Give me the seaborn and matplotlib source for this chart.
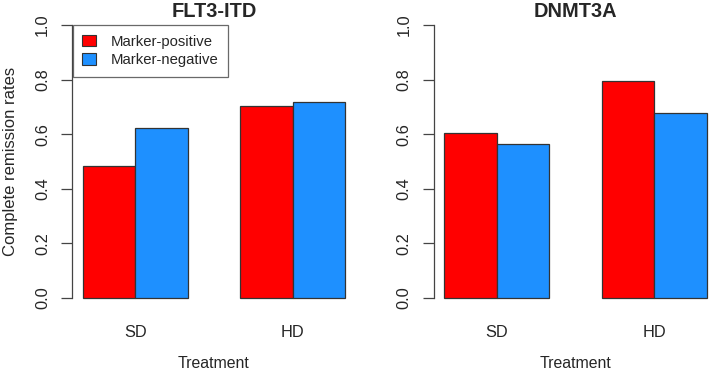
import numpy as np
import pandas as pd
import seaborn as sns
import matplotlib.pyplot as plt
from matplotlib.patches import Patch

# -- data -- #
panels = ['FLT3-ITD', 'DNMT3A']
treatments = ['SD', 'HD']
groups = ['Marker-positive', 'Marker-negative']
flt3_pos = [0.483, 0.703]
flt3_neg = [0.624, 0.717]
dnmt3a_pos = [0.606, 0.795]
dnmt3a_neg = [0.564, 0.676]
colors = ['#FF0000', '#1E90FF']

values = {'FLT3-ITD': (flt3_pos, flt3_neg), 'DNMT3A': (dnmt3a_pos, dnmt3a_neg)}

sns.set_style('white')
plt.rcParams['font.family'] = ['Liberation Sans', 'DejaVu Sans']

W, H = 709, 372
fig = plt.figure(figsize=(W / 100, H / 100), dpi=100)

# axes boxes in pixels (R style, 4% padding); right panel runs past the edge like the reference
lefts = [72.2, 433.8]
axw, bottom, axh = 283.5, 63.1, 294.8

for i, name in enumerate(panels):
    pos, neg = values[name]
    df = pd.DataFrame({'Treatment': treatments * 2,
                       'rate': pos + neg,
                       'group': [groups[0]] * 2 + [groups[1]] * 2})
    ax = fig.add_axes([lefts[i] / W, bottom / H, axw / W, axh / H])
    sns.barplot(data=df, x='Treatment', y='rate', hue='group', order=treatments,
                hue_order=groups, palette=colors, width=2 / 3, gap=0,
                edgecolor='#333333', linewidth=0.9, saturation=1, errorbar=None,
                legend=False, ax=ax)
    ax.set_xlim(-0.4, 1.4)
    ax.set_ylim(-0.04, 1.04)
    for s in ['top', 'right', 'bottom']:
        ax.spines[s].set_visible(False)
    ax.spines['left'].set_bounds(0, 1)
    ax.spines['left'].set_color('#444444')
    ax.spines['left'].set_linewidth(0.9)
    ax.set_yticks([0, 0.2, 0.4, 0.6, 0.8, 1.0])
    ax.set_yticklabels(['0.0', '0.2', '0.4', '0.6', '0.8', '1.0'])
    ax.tick_params(axis='y', direction='out', length=8, width=0.9, color='#444444',
                   labelsize=11.8, pad=8, left=True)
    for lab in ax.get_yticklabels():
        lab.set_rotation(90)
        lab.set_va('center')
    ax.tick_params(axis='x', length=0, labelsize=11.8, pad=11.5)
    ax.set_xlabel('Treatment', fontsize=11.4, labelpad=11.5)
    if i == 0:
        ax.set_ylabel('Complete remission rates', fontsize=12, labelpad=12.5)
    else:
        ax.set_ylabel('')
    ax.text(0.5, 0.991, name, transform=ax.transAxes, ha='center', va='baseline',
            fontsize=14.4, fontweight='bold')

handles = [Patch(facecolor=c, edgecolor='#333333', linewidth=0.8) for c in colors]
leg = fig.legend(handles, groups, loc='upper left',
                 bbox_to_anchor=(72.7 / W, (H - 25) / H), bbox_transform=fig.transFigure,
                 borderaxespad=0, fontsize=10.7, frameon=True, fancybox=False,
                 handlelength=0.9, handleheight=0.8, handletextpad=1.0,
                 borderpad=0.65, labelspacing=0.3)
leg.get_frame().set_edgecolor('#444444')
leg.get_frame().set_linewidth(0.9)

fig.savefig('out.png', dpi=100)
